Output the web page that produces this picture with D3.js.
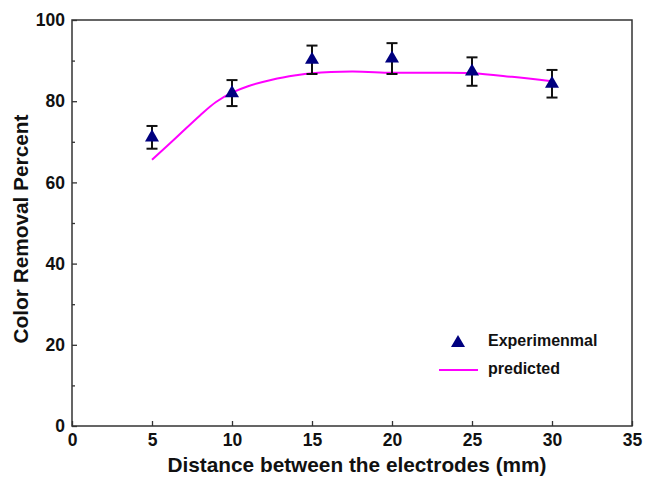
<!DOCTYPE html>
<html>
<head>
<meta charset="utf-8">
<script src="https://cdn.jsdelivr.net/npm/d3@7"></script>
<style>
  body { margin: 0; background: #fff; }
  svg { display: block; }
  text { font-family: "Liberation Sans", Arial, sans-serif; font-weight: bold; fill: #111; }
</style>
</head>
<body>
<svg id="chart" width="648" height="477"></svg>
<script>
// Experimental data
const distances = [5, 10, 15, 20, 25, 30];
const experimental = [71.1, 82.0, 90.2, 90.5, 87.3, 84.3];
const errors = [2.8, 3.2, 3.5, 3.8, 3.5, 3.4];

// Predicted curve
const predX = [5, 6.5, 8, 9, 10, 11, 12.5, 14, 15, 17.5, 20, 22.5, 25, 27.5, 30];
const predY = [65.6, 71.0, 76.5, 79.8, 82.1, 83.7, 85.3, 86.4, 86.9, 87.3, 87.0, 87.0, 86.9, 86.0, 84.9];

const xTicks = [0, 5, 10, 15, 20, 25, 30, 35];
const yTicks = [0, 20, 40, 60, 80, 100];
const yMinorTicks = [10, 30, 50, 70, 90];

const legendLabels = ["Experimenmal", "predicted"];

(function () {
const svg = d3.select("#chart");
const mL = 72, mR = 632, mT = 20, mB = 426;

const x = d3.scaleLinear().domain([0, 35]).range([mL, mR]);
const y = d3.scaleLinear().domain([0, 100]).range([mB, mT]);

const axisColor = "#333";
const FONT = "Liberation Sans, Arial, sans-serif";

// frame
svg.append("rect")
  .attr("x", mL).attr("y", mT)
  .attr("width", mR - mL).attr("height", mB - mT)
  .attr("fill", "none").attr("stroke", axisColor).attr("stroke-width", 1.5);

// x axis
const xAxis = svg.append("g")
  .attr("transform", `translate(0,${mB})`)
  .call(d3.axisBottom(x).tickValues(xTicks).tickSizeInner(-5).tickSizeOuter(0).tickPadding(8));
xAxis.select(".domain").remove();
xAxis.selectAll("line").attr("stroke", axisColor).attr("stroke-width", 1.3);
xAxis.selectAll("text").attr("font-size", 17.5).attr("font-family", FONT).attr("font-weight", "bold").attr("fill", "#111");

// y axis
const yAxis = svg.append("g")
  .attr("transform", `translate(${mL},0)`)
  .call(d3.axisLeft(y).tickValues(yTicks).tickSizeInner(-5).tickSizeOuter(0).tickPadding(7));
yAxis.select(".domain").remove();
yAxis.selectAll("line").attr("stroke", axisColor).attr("stroke-width", 1.3);
yAxis.selectAll("text").attr("font-size", 17.5).attr("font-family", FONT).attr("font-weight", "bold").attr("fill", "#111");

const yMinor = svg.append("g")
  .attr("transform", `translate(${mL},0)`)
  .call(d3.axisLeft(y).tickValues(yMinorTicks).tickSizeInner(-3).tickSizeOuter(0).tickFormat(""));
yMinor.select(".domain").remove();
yMinor.selectAll("line").attr("stroke", axisColor).attr("stroke-width", 1.3);

// axis titles
svg.append("text")
  .attr("x", 357).attr("y", 472)
  .attr("text-anchor", "middle").attr("font-size", 20.8)
  .text("Distance between the electrodes (mm)");

svg.append("text")
  .attr("transform", `translate(28,229) rotate(-90)`)
  .attr("text-anchor", "middle").attr("font-size", 20.8)
  .text("Color Removal Percent");

// predicted curve
const pred = predX.map((d, i) => [d, predY[i]]);
svg.append("path")
  .datum(pred)
  .attr("fill", "none").attr("stroke", "#ff00ff").attr("stroke-width", 2)
  .attr("d", d3.line().x(d => x(d[0])).y(d => y(d[1])).curve(d3.curveCatmullRom.alpha(0.5)));

// error bars
const exp = distances.map((d, i) => ({ x: d, y: experimental[i], e: errors[i] }));
const eb = svg.append("g").attr("stroke", "#111").attr("stroke-width", 2);
exp.forEach(d => {
  eb.append("line").attr("x1", x(d.x)).attr("x2", x(d.x)).attr("y1", y(d.y - d.e)).attr("y2", y(d.y + d.e));
  eb.append("line").attr("x1", x(d.x) - 5.5).attr("x2", x(d.x) + 5.5).attr("y1", y(d.y - d.e)).attr("y2", y(d.y - d.e));
  eb.append("line").attr("x1", x(d.x) - 5.5).attr("x2", x(d.x) + 5.5).attr("y1", y(d.y + d.e)).attr("y2", y(d.y + d.e));
});

// triangles
const tri = d3.symbol().type(d3.symbolTriangle).size(85);
svg.append("g").selectAll("path")
  .data(exp).join("path")
  .attr("d", tri)
  .attr("transform", d => `translate(${x(d.x)},${y(d.y)})`)
  .attr("fill", "#00007f");

// legend
const lg = svg.append("g");
lg.append("path").attr("d", tri).attr("transform", "translate(458,343)").attr("fill", "#00007f");
lg.append("text").attr("x", 488).attr("y", 346).attr("font-size", 16).text(legendLabels[0]);
lg.append("line").attr("x1", 439).attr("x2", 478).attr("y1", 370).attr("y2", 370)
  .attr("stroke", "#ff00ff").attr("stroke-width", 2);
lg.append("text").attr("x", 488).attr("y", 374).attr("font-size", 16).text(legendLabels[1]);
})();
</script>
</body>
</html>
